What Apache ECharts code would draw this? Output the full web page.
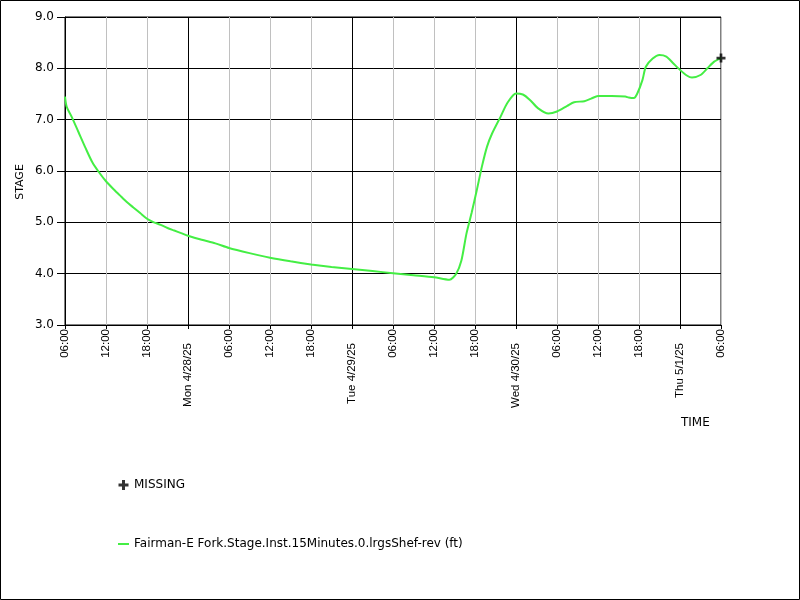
<!DOCTYPE html>
<html>
<head>
<meta charset="utf-8">
<script src="https://cdn.jsdelivr.net/npm/echarts@6/dist/echarts.min.js"></script>
<style>
html,body{margin:0;padding:0;background:#fff;}
#chart{width:800px;height:600px;}
</style>
</head>
<body>
<div id="chart"></div>
<script>
// ---- data ----
const times = [
  '04/27 06:00','04/27 06:15','04/27 07:00','04/27 08:00','04/27 09:00','04/27 10:00','04/27 11:00',
  '04/27 12:00','04/27 13:00','04/27 14:00','04/27 15:00','04/27 16:00','04/27 17:00','04/27 18:00',
  '04/27 19:00','04/27 20:00','04/27 21:00','04/27 22:00','04/27 23:00',
  '04/28 00:00','04/28 02:00','04/28 04:00','04/28 06:00','04/28 09:00','04/28 12:00','04/28 15:00',
  '04/28 18:00','04/28 21:00',
  '04/29 00:00','04/29 03:00','04/29 06:00','04/29 09:00','04/29 12:00','04/29 14:15','04/29 15:15',
  '04/29 16:00','04/29 16:45','04/29 17:30','04/29 18:15','04/29 19:00','04/29 19:45','04/29 20:30',
  '04/29 21:45','04/29 22:45',
  '04/30 00:00','04/30 01:00','04/30 02:00','04/30 03:15','04/30 04:45','04/30 06:00','04/30 07:30',
  '04/30 08:30','04/30 10:00','04/30 11:00','04/30 12:00','04/30 14:00','04/30 16:00','04/30 16:30',
  '04/30 17:15','04/30 17:45','04/30 18:30','04/30 19:00','04/30 20:00','04/30 21:00','04/30 22:00',
  '04/30 23:00',
  '05/01 00:00','05/01 01:00','05/01 01:45','05/01 03:00','05/01 04:00','05/01 05:00','05/01 06:00'
];
const stage = [
  7.45,7.25,7.05,6.75,6.45,6.17,5.97,
  5.80,5.66,5.53,5.40,5.29,5.18,5.07,
  5.00,4.95,4.89,4.84,4.79,
  4.74,4.66,4.59,4.50,4.40,4.31,4.24,
  4.18,4.13,
  4.09,4.05,4.01,3.97,3.93,3.88,4.00,
  4.25,4.78,5.18,5.62,6.08,6.47,6.73,
  7.06,7.33,
  7.51,7.49,7.39,7.22,7.12,7.16,7.27,
  7.34,7.36,7.41,7.46,7.46,7.45,7.43,
  7.42,7.51,7.77,8.03,8.19,8.26,8.23,
  8.10,
  7.97,7.86,7.82,7.87,8.00,8.13,8.20
];
const missingTimes = ['05/01 06:00'];
const missingValues = [8.2];
const xTickLabels = [
  '06:00','12:00','18:00','Mon 4/28/25',
  '06:00','12:00','18:00','Tue 4/29/25',
  '06:00','12:00','18:00','Wed 4/30/25',
  '06:00','12:00','18:00','Thu 5/1/25',
  '06:00'
];
const yTicks = [3.0,4.0,5.0,6.0,7.0,8.0,9.0];
const seriesName = 'Fairman-E Fork.Stage.Inst.15Minutes.0.lrgsShef-rev (ft)';
const missingName = 'MISSING';

// ---- helpers ----
const year = 2025;
const startMs = Date.UTC(2025, 3, 27, 6, 0);
function toHours(s) {
  const [md, hm] = s.split(' ');
  const [m, d] = md.split('/').map(Number);
  const [h, mi] = hm.split(':').map(Number);
  return (Date.UTC(year, m - 1, d, h, mi) - startMs) / 3600000;
}
const lineData = times.map((t, i) => [toHours(t), stage[i]]);
const missingData = missingTimes.map((t, i) => [toHours(t), missingValues[i]]);

const plusPath = 'path://M3.5,0H6.5V3.5H10V6.5H6.5V10H3.5V6.5H0V3.5H3.5Z';
const dashPath = 'path://M0,0H11V2H0Z';

const chart = echarts.init(document.getElementById('chart'), null, {renderer: 'canvas'});
chart.setOption({
  animation: false,
  backgroundColor: '#ffffff',
  grid: {
    left: 65, top: 17, right: 79, bottom: 275,
    show: true, borderColor: '#000', borderWidth: 1, backgroundColor: 'transparent'
  },
  xAxis: {
    type: 'value',
    min: 0, max: 96, interval: 6,
    axisLine: {show: true, onZero: false, lineStyle: {color: '#000', width: 1}},
    axisTick: {show: true, length: 4, lineStyle: {color: '#000'}},
    axisLabel: {
      rotate: 90, margin: 4,
      fontFamily: 'Liberation Sans', fontSize: 11.5, color: '#000',
      showMinLabel: true, showMaxLabel: true,
      formatter: function (v) {
        const s = xTickLabels[Math.round(v / 6)];
        return s.indexOf(' ') >= 0 ? '{day|' + s + '}' : s;
      },
      rich: {
        day: {fontFamily: 'Liberation Sans', fontSize: 11.5, color: '#000', padding: [0, 14, 0, 0]}
      }
    },
    splitLine: {show: true, showMinLine: true, showMaxLine: true,
      lineStyle: {color: ['#c0c0c0', '#c0c0c0', '#c0c0c0', '#000000'], width: 1}}
  },
  yAxis: {
    type: 'value',
    min: yTicks[0], max: yTicks[yTicks.length - 1], interval: 1,
    name: 'STAGE', nameLocation: 'middle', nameGap: 39, nameRotate: 90,
    nameMoveOverlap: false,
    nameTextStyle: {fontFamily: 'DejaVu Sans', fontSize: 11, color: '#000', padding: [0, 22, 0, 0]},
    axisLine: {show: true, lineStyle: {color: '#000', width: 1}},
    axisTick: {show: true, length: 8, lineStyle: {color: '#000'}},
    axisLabel: {
      margin: 11, fontFamily: 'DejaVu Sans', fontSize: 12, color: '#000',
      formatter: function (v) { return v.toFixed(1); }
    },
    splitLine: {show: true, lineStyle: {color: '#000', width: 1}}
  },
  legend: {
    orient: 'vertical', left: 118, top: 479, padding: 0,
    itemGap: 47, itemWidth: 11, itemHeight: 10,
    symbolKeepAspect: true,
    textStyle: {fontFamily: 'DejaVu Sans', fontSize: 12, color: '#000'},
    data: [
      {name: missingName, icon: plusPath},
      {name: seriesName, icon: dashPath}
    ]
  },
  graphic: [
    {type: 'rect', shape: {x: 0.5, y: 0.5, width: 799, height: 599},
     style: {fill: 'none', stroke: '#000', lineWidth: 1}, silent: true},
    {type: 'text', left: 681, top: 417,
     style: {text: 'TIME', fontFamily: 'DejaVu Sans', fontSize: 12, fill: '#000'}}
  ],
  series: [
    {
      name: seriesName, type: 'line', data: lineData,
      showSymbol: false, symbol: 'none', smooth: 0.25,
      lineStyle: {color: '#44ee44', width: 2},
      itemStyle: {color: '#44ee44'},
      z: 3
    },
    {
      name: missingName, type: 'scatter', data: missingData,
      symbol: plusPath, symbolSize: 9,
      itemStyle: {color: '#000'}, z: 5
    }
  ]
});
</script>
</body>
</html>
